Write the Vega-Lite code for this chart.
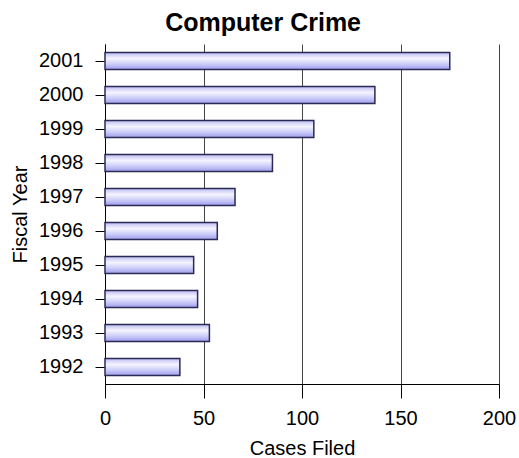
{
  "$schema": "https://vega.github.io/schema/vega-lite/v6.json",
  "autosize": "none",
  "width": 394,
  "height": 340,
  "padding": {"left": 105, "top": 44, "right": 20, "bottom": 74},
  "background": "white",
  "title": {
    "text": "Computer Crime",
    "font": "Liberation Sans",
    "fontSize": 25,
    "fontWeight": "bold",
    "color": "black",
    "anchor": "middle",
    "frame": "bounds",
    "offset": 8
  },
  "data": {
    "values": [
      {"year": "2001", "cases": 175},
      {"year": "2000", "cases": 137},
      {"year": "1999", "cases": 106},
      {"year": "1998", "cases": 85},
      {"year": "1997", "cases": 66},
      {"year": "1996", "cases": 57},
      {"year": "1995", "cases": 45},
      {"year": "1994", "cases": 47},
      {"year": "1993", "cases": 53},
      {"year": "1992", "cases": 38}
    ]
  },
  "mark": {
    "type": "bar",
    "fill": {
      "gradient": "linear",
      "x1": 0, "y1": 0, "x2": 0, "y2": 1,
      "stops": [
        {"offset": 0, "color": "#bcbcf2"},
        {"offset": 0.35, "color": "#f4f4ff"},
        {"offset": 0.7, "color": "#cacaf8"},
        {"offset": 1, "color": "#9c9cec"}
      ]
    },
    "stroke": "#2a2a55",
    "strokeWidth": 1.5,
    "cornerRadius": 0
  },
  "encoding": {
    "y": {
      "field": "year",
      "type": "nominal",
      "sort": "descending",
      "scale": {"paddingInner": 0.5, "paddingOuter": 0.25},
      "axis": {
        "title": "Fiscal Year",
        "titleFont": "Liberation Sans",
        "titleFontSize": 20,
        "titleFontWeight": "normal",
        "titleColor": "black",
        "titlePadding": 8,
        "labelFont": "Liberation Sans",
        "labelFontSize": 20,
        "labelColor": "black",
        "labelPadding": 12,
        "tickSize": 10,
        "tickColor": "black",
        "domainColor": "black",
        "grid": false
      }
    },
    "x": {
      "field": "cases",
      "type": "quantitative",
      "scale": {"domain": [0, 200], "nice": false},
      "axis": {
        "title": "Cases Filed",
        "values": [0, 50, 100, 150, 200],
        "titleFont": "Liberation Sans",
        "titleFontSize": 20,
        "titleFontWeight": "normal",
        "titleColor": "black",
        "titlePadding": 10,
        "labelFont": "Liberation Sans",
        "labelFontSize": 20,
        "labelColor": "black",
        "labelPadding": 10,
        "labelFlush": false,
        "tickSize": 14,
        "tickColor": "black",
        "domainColor": "black",
        "grid": true,
        "gridColor": "#444444",
        "gridOpacity": 1
      }
    }
  },
  "config": {"view": {"stroke": null}}
}
